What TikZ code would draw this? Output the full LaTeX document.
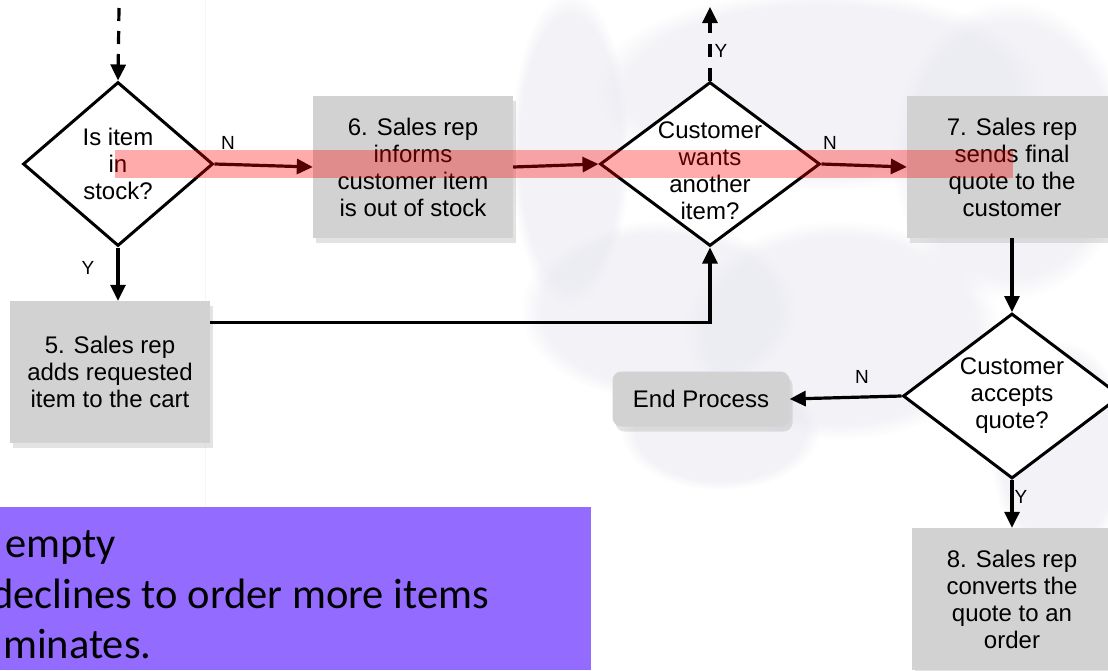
\documentclass[tikz,border=0pt]{standalone}
\usepackage{fontspec}
\setmainfont{Liberation Sans}
\newfontfamily\notefont{Carlito}
\usetikzlibrary{shapes.geometric,arrows.meta,shadows,fadings,positioning}

\definecolor{boxgray}{RGB}{210,210,210}
\definecolor{notepurple}{RGB}{148,107,255}
\definecolor{cloudgray}{RGB}{226,226,236}

\tikzset{
    stepbox/.style={fill=boxgray, minimum width=200pt, minimum height=142pt,
        align=center, font=\fontsize{24}{27}\selectfont,
        drop shadow={shadow xshift=3pt, shadow yshift=-5pt, opacity=0.22}},
    endbox/.style={fill=boxgray, rounded corners=9pt, minimum width=177pt,
        minimum height=55pt, font=\fontsize{24}{27}\selectfont,
        drop shadow={shadow xshift=3pt, shadow yshift=-5pt, opacity=0.22}},
    decision/.style={diamond, draw, line width=3pt, fill=white, inner sep=0pt},
    qtext/.style={align=center, font=\fontsize{24}{27}\selectfont},
    flow/.style={line width=3.2pt, -{Triangle[length=16pt,width=15pt]}},
    yn/.style={font=\fontsize{19}{20}\selectfont},
    cloud/.style={fill=cloudgray, opacity=0.4, path fading=circle with fuzzy edge 15 percent},
    note/.style={anchor=base west, inner sep=0pt, font=\notefont\fontsize{42.5}{50}\selectfont}
}

\begin{document}
\begin{tikzpicture}[x=1pt,y=-1pt]
    \useasboundingbox (0,0) rectangle (1108,670);
    \clip (0,0) rectangle (1108,670);

    % faint background
    \fill[cloud] (570,150) ellipse (60 and 160);
    \fill[cloud] (820,90) ellipse (230 and 100);
    \fill[cloud] (1010,150) ellipse (120 and 150);
    \fill[cloud] (660,310) ellipse (140 and 90);
    \fill[cloud] (840,330) ellipse (160 and 110);
    \fill[cloud] (1060,450) ellipse (70 and 110);
    \fill[cloud] (720,430) ellipse (100 and 60);
    \draw[gray!7, line width=1pt] (205,0) -- (205,507);

    % steps and decisions
    \node[decision, minimum width=190pt, minimum height=164pt] (stock) at (118,164) {};
    \node[qtext] (stocktext) at (stock) {Is item\\in\\stock?};
    \node[stepbox] (inform) at (413,167) {6. Sales rep\\informs\\customer item\\is out of stock};
    \node[decision, minimum width=220pt, minimum height=164pt] (want) at (710,164) {};
    \node[qtext] (wanttext) at (710,171) {Customer\\wants\\another\\item?};
    \node[stepbox, minimum width=210pt] (quote) at (1012,167) {7. Sales rep\\sends final\\quote to the\\customer};
    \node[stepbox] (add) at (110,372) {5. Sales rep\\adds requested\\item to the cart};
    \node[decision, minimum width=218pt, minimum height=165pt] (accept) at (1012,396) {};
    \node[qtext] (accepttext) at (accept) {Customer\\accepts\\quote?};
    \node[endbox] (end) at (701,399) {End Process};
    \node[stepbox] (order) at (1012,599) {8. Sales rep\\converts the\\quote to an\\order};

    % connectors
    \coordinate (entry) at (119,8);
    \coordinate (exit) at (710,7);
    \draw[flow, dash pattern=on 13pt off 10pt] (entry) -- (stock.north);
    \draw[flow] (stock.east) -- (inform.west);
    \draw[flow] (stock.south) -- (stock.south |- add.north);
    \draw[flow] (inform.east) -- (want.west);
    \draw[flow] (want.east) -- (quote.west);
    \draw[flow, dash pattern=on 13pt off 11pt] (want.north) -- (exit);
    \draw[flow] ([yshift=-22pt]add.north east) -| (want.south);
    \draw[flow] (quote.south) -- (accept.north);
    \draw[flow] (accept.west) -- (end.east);
    \draw[flow] (accept.south) -- (order.north);

    \node[yn] (n1) at (228,143) {N};
    \node[yn] (n2) at (830,143) {N};
    \node[yn] (n3) at (862,377) {N};
    \node[yn] (y1) at (88,268) {Y};
    \node[yn] (y2) at (721,51) {Y};
    \node[yn] (y3) at (1021,497) {Y};

    % highlight band
    \fill[red, opacity=0.33] (115,150) rectangle (1013,178);

    % note box
    \fill[notepurple] (0,507) rectangle (591,670);
    \node[note] (note1) at (5,557) {empty};
    \node[note] (note2) at (-9,608) {declines to order more items};
    \node[note] (note3) at (3,658) {minates.};
\end{tikzpicture}
\end{document}
